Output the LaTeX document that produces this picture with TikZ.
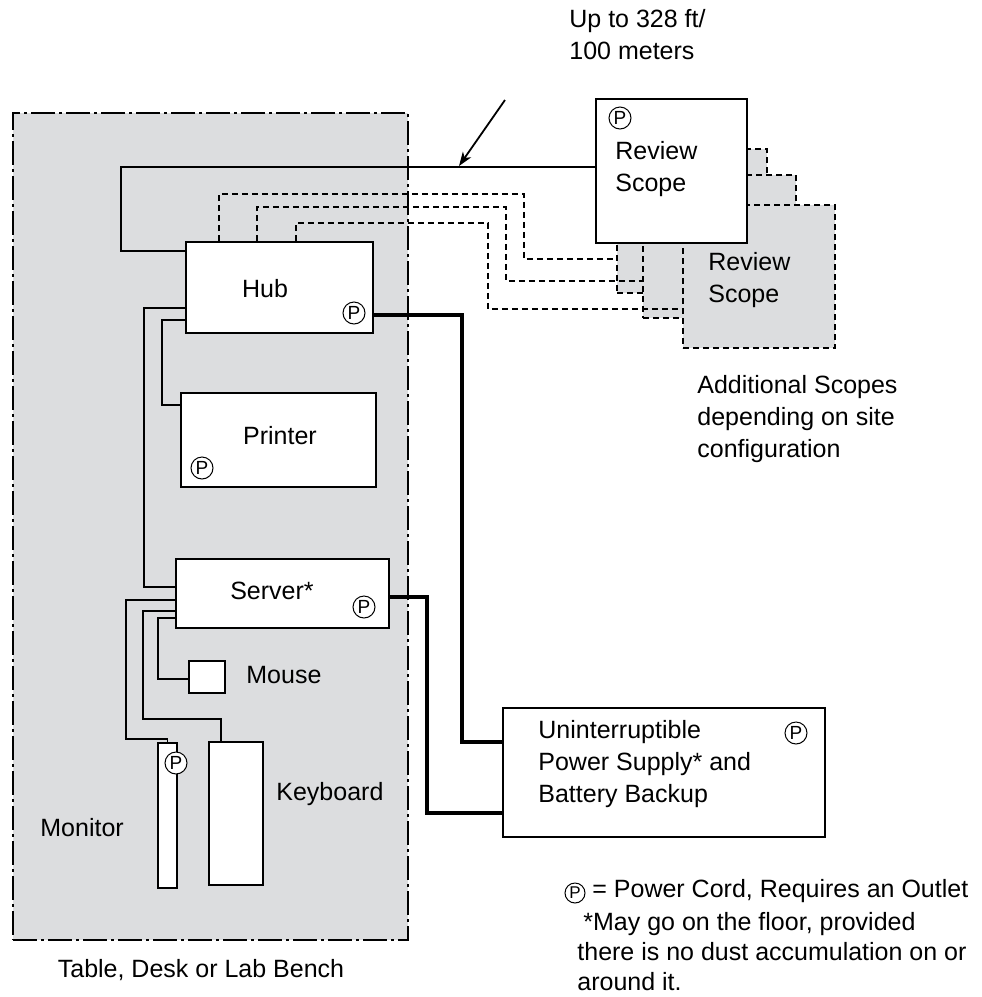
\documentclass[tikz,border=0pt]{standalone}
\usepackage{fontspec}
\setmainfont{Liberation Sans}
\usetikzlibrary{arrows.meta}
\definecolor{bench}{RGB}{220,221,223}
\begin{document}
\begin{tikzpicture}[x=0.5pt,y=-0.5pt,
  every node/.style={font=\fontsize{12.5}{16}\selectfont},
  box/.style={draw, line width=0.9pt, fill=white, inner sep=0pt},
  shadowbox/.style={draw, dash pattern=on 3pt off 2pt, line width=0.8pt, fill=bench, inner sep=0pt},
  cable/.style={line width=0.85pt},
  dcable/.style={line width=0.8pt, dash pattern=on 3pt off 2pt},
  power/.style={line width=2pt},
  pmark/.style={circle, draw, line width=0.5pt, fill=white, inner sep=0pt, minimum size=11pt, font=\fontsize{9.5}{9.5}\selectfont},
  lbl/.style={inner sep=0pt},
]
\useasboundingbox (0,0) rectangle (981,997);

% table
\node[draw, fill=bench, line width=0.6pt, dash pattern=on 12pt off 2pt on 1.5pt off 2pt,
      minimum width=197.5pt, minimum height=413.5pt, inner sep=0pt] (table) at (210.5,526.5) {};
\node[lbl, anchor=base] (tablelbl) at (201,977) {Table, Desk or Lab Bench};

% additional scopes (back to front)
\node[shadowbox, minimum width=75pt, minimum height=72pt] (sh1) at (692,221) {};
\node[shadowbox, minimum width=76.5pt, minimum height=71.5pt] (sh2) at (719.5,246.5) {};
\node[shadowbox, minimum width=76pt, minimum height=71.5pt] (sh3) at (759,276.5) {};
\node[lbl, anchor=north west, align=left] (sh3lbl) at (708,252) {Review\\Scope};

% main review scope
\node[box, minimum width=75.5pt, minimum height=72pt] (scope) at (671.5,171) {};
\node[lbl, anchor=north west, align=left] (scopelbl) at (615,141) {Review\\Scope};
\node[pmark] (pScope) at (620,118) {P};

% devices
\node[box, minimum width=93.5pt, minimum height=45.5pt] (hub) at (279.5,287.5) {};
\node[lbl, anchor=base] (hublbl) at (265,297) {Hub};
\node[pmark] (pHub) at (354,313) {P};

\node[box, minimum width=97.5pt, minimum height=47pt] (printer) at (278.5,440) {};
\node[lbl, anchor=base] (printerlbl) at (280,444) {Printer};
\node[pmark] (pPrinter) at (202,468) {P};

\node[box, minimum width=106.5pt, minimum height=34.5pt] (server) at (282.5,593.5) {};
\node[lbl, anchor=base] (serverlbl) at (272,599) {Server*};
\node[pmark] (pServer) at (364,607) {P};

\node[box, minimum width=18pt, minimum height=16pt] (mouse) at (207,677) {};
\node[lbl, anchor=base west] (mouselbl) at (246,683) {Mouse};

\node[box, minimum width=27pt, minimum height=71.5pt] (kbd) at (236,813.5) {};
\node[lbl, anchor=base west] (kbdlbl) at (276,800) {Keyboard};

\node[box, minimum width=9.5pt, minimum height=72.5pt] (monitor) at (167.5,815.5) {};
\node[lbl, anchor=base west] (monitorlbl) at (40,836) {Monitor};

\node[box, minimum width=161pt, minimum height=64.5pt] (ups) at (664,772.5) {};
\node[lbl, anchor=north west, align=left] (upslbl) at (538,720) {Uninterruptible\\Power Supply* and\\Battery Backup};
\node[pmark] (pUps) at (796,733) {P};

% network cables
\draw[cable] (hub.west |- 0,251) -- (121,251) -- (121,167) -- (scope.west |- 0,167);
\draw[dcable] (hub.north -| 219,0) -- (219,194) -- (524,194) -- (524,259) -- (sh1.west |- 0,259);
\draw[dcable] (hub.north -| 257,0) -- (257,207) -- (506,207) -- (506,281) -- (sh2.west |- 0,281);
\draw[dcable] (hub.north -| 296,0) -- (296,223) -- (488,223) -- (488,309) -- (sh3.west |- 0,309);

\draw[cable] (hub.west |- 0,308) -- (144,308) -- (144,587) -- (server.west |- 0,587);
\draw[cable] (hub.west |- 0,320) -- (162,320) -- (162,405) -- (printer.west |- 0,405);
\draw[cable] (server.west |- 0,600) -- (126,600) -- (126,739) -| (monitor.north);
\draw[cable] (server.west |- 0,611) -- (143,611) -- (143,719) -- (221,719) -- (kbd.north -| 221,0);
\draw[cable] (server.west |- 0,618) -- (158,618) -- (158,679) -- (mouse.west |- 0,679);

% monitor power mark on top of its edge
\node[pmark] (pMonitor) at (176,763) {P};

% power cables
\draw[power] (hub.east |- 0,315) -- (462,315) -- (462,742) -- (ups.west |- 0,742);
\draw[power] (server.east |- 0,597) -- (427,597) -- (427,813) -- (ups.west |- 0,813);

% distance annotation
\coordinate (arrTail) at (505,100);
\coordinate (arrHead) at (459,166);
\draw[line width=0.9pt, -{Stealth[length=7pt,width=5pt,inset=2pt]}] (arrTail) -- (arrHead);
\node[lbl, anchor=north west, align=left] (distlbl) at (569,9) {Up to 328 ft/\\100 meters};

\node[lbl, anchor=north west, align=left] (addlbl) at (697,375) {Additional Scopes\\depending on site\\configuration};

% legend
\node[pmark, minimum size=10pt, font=\fontsize{8.5}{8.5}\selectfont] (pLegend) at (575,893) {P};
\node[lbl, anchor=base west] (legend1) at (592,897) {= Power Cord, Requires an Outlet};
\node[lbl, anchor=north west, align=left, font=\fontsize{12.5}{15}\selectfont] (legend2) at (577,912)
  {\hspace{3pt}*May go on the floor, provided\\there is no dust accumulation on or\\around it.};
\end{tikzpicture}
\end{document}
